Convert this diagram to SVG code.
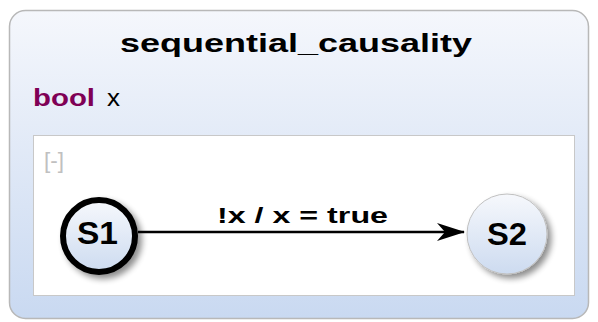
<svg xmlns="http://www.w3.org/2000/svg" width="598" height="322" viewBox="0 0 598 322">
<defs>
<linearGradient id="bg" x1="0" y1="0" x2="0" y2="1">
<stop offset="0" stop-color="#f5f7fc"/>
<stop offset="1" stop-color="#c9d9f1"/>
</linearGradient>
<linearGradient id="st" x1="0" y1="0" x2="0" y2="1">
<stop offset="0" stop-color="#f6f8fc"/>
<stop offset="1" stop-color="#cddbf0"/>
</linearGradient>
<filter id="sh" x="-30%" y="-30%" width="170%" height="170%">
<feGaussianBlur in="SourceAlpha" stdDeviation="3"/>
<feOffset dx="4" dy="4"/>
<feComponentTransfer><feFuncA type="linear" slope="0.45"/></feComponentTransfer>
<feMerge><feMergeNode/><feMergeNode in="SourceGraphic"/></feMerge>
</filter>
<marker id="arr" viewBox="0 0 28 18" refX="27" refY="9" markerWidth="28" markerHeight="18" markerUnits="userSpaceOnUse" orient="auto">
<path d="M0,0 L28,9 L0,18 L8,9 Z" fill="#000"/>
</marker>
</defs>
<style>
text{font-family:"Liberation Sans",Arial,sans-serif}
.b{font-weight:bold}
.state{fill:url(#st)}
</style>
<g id="root">
<rect x="9.5" y="10.5" width="579" height="308" rx="16" fill="url(#bg)" stroke="#b8b8b8" stroke-width="1.5"/>
<text x="120" y="52" class="b" font-size="25" textLength="352" lengthAdjust="spacingAndGlyphs">sequential_causality</text>
<text x="33" y="106" class="b" font-size="24" fill="#7f0055" textLength="62" lengthAdjust="spacingAndGlyphs">bool</text>
<text x="107" y="106" font-size="23" textLength="13" lengthAdjust="spacingAndGlyphs">x</text>
<rect x="33.5" y="135.5" width="541" height="160" fill="#fff" stroke="#c8c8c8" stroke-width="1"/>
<text x="44" y="168" font-size="22" fill="#c0c0c0" textLength="20" lengthAdjust="spacingAndGlyphs">[-]</text>
</g>
<g id="connectors">
<line x1="138" y1="232" x2="464" y2="232" stroke="#000" stroke-width="2.5" marker-end="url(#arr)"/>
<text x="217" y="223" class="b" font-size="22" textLength="171" lengthAdjust="spacingAndGlyphs">!x / x = true</text>
</g>
<g id="S1">
<circle cx="99" cy="236" r="36" class="state" stroke="#000" stroke-width="6" filter="url(#sh)"/>
<text x="77" y="244" class="b" font-size="31" textLength="41" lengthAdjust="spacingAndGlyphs">S1</text>
</g>
<g id="S2">
<circle cx="507" cy="234" r="40" class="state" stroke="#c0c0c0" stroke-width="1" filter="url(#sh)"/>
<text x="487" y="245" class="b" font-size="31" textLength="40" lengthAdjust="spacingAndGlyphs">S2</text>
</g>
</svg>
